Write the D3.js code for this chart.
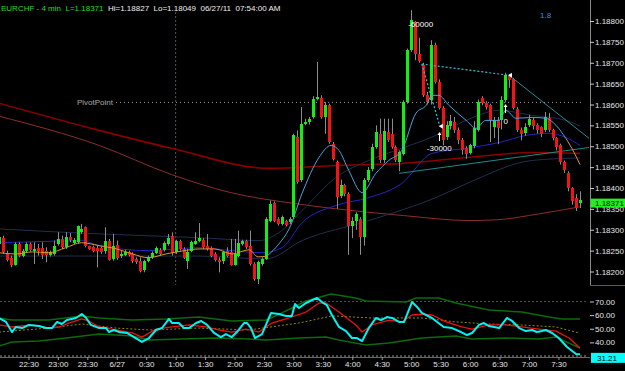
<!DOCTYPE html>
<html>
<head>
<meta charset="utf-8">
<script src="https://cdn.jsdelivr.net/npm/d3@7"></script>
<style>
  html, body { margin: 0; padding: 0; background: #000; }
  svg { display: block; font-family: "Liberation Sans", Arial, sans-serif; }
  text { white-space: pre; }
</style>
</head>
<body>
<svg id="chart" width="625" height="371"></svg>
<script>
// EURCHF 4-minute bars, first bar 22:00 on 6/26/11.
// Prices are stored in 0.00001 steps above BASE.
const BASE = 1.18;
const opens = [
  266,280,242,232,216,266,238,250,266,250, 256,256,248,240,242,266,278,258,282,269,
  270,294,306,260,258,256,256,250,274,230, 264,236,240,246,242,230,226,204,226,234,
  244,252,252,266,284,246,272,254,226,250, 266,274,276,262,256,242,228,224,250,246,
  216,238,266,272,260,218,182,218,230,322, 364,326,314,320,318,330,522,418,554,558,
  570,614,616,570,598,506,462,382,406,386, 310,322,326,282,418,446,498,530,466,534,
  530,498,462,482,606,730,798,722,694,622, 610,742,654,592,522,548,558,540,516,497,
  485,500,540,615,603,598,545,562,562,610, 668,660,590,538,532,550,564,550,545,538,
  568,538,520,502,462,437,399,376,364];
const highs = [
  290,286,250,238,270,270,254,270,270,270, 266,270,258,250,274,294,286,294,292,280,
  310,314,308,262,262,262,260,306,278,290, 274,250,252,250,246,234,234,228,238,248,
  260,256,272,290,294,276,276,258,254,274, 294,316,280,290,260,246,234,250,258,278,
  278,298,276,276,298,222,226,234,330,370, 368,330,334,324,330,530,538,594,566,570,
  620,702,622,606,602,510,466,420,410,390, 330,342,330,424,450,506,550,566,566,566,
  566,502,490,610,734,826,800,760,700,630, 754,748,660,596,560,575,570,545,520,500,
  506,560,612,620,608,602,570,570,620,676, 672,664,594,545,555,575,568,555,548,582,
  580,542,522,506,466,440,402,385,392];
const lows = [
  222,242,224,210,214,234,234,246,248,218, 238,230,222,236,238,262,254,254,270,266,
  266,290,258,252,246,210,242,242,226,226, 228,232,237,236,220,218,198,198,222,230,
  242,238,248,262,238,242,250,230,206,246, 264,270,254,250,234,224,198,218,234,214,
  214,234,262,254,214,178,170,214,228,318, 318,310,310,308,314,326,410,414,550,552,
  566,610,566,530,506,466,350,376,380,240, 280,300,240,262,414,440,494,460,460,510,
  494,462,440,478,602,726,706,700,618,600, 600,650,588,502,515,540,532,505,480,470,
  480,495,535,598,588,510,520,505,540,605, 640,588,534,514,525,546,540,530,522,534,
  534,514,490,456,436,392,360,345,352];
const closes = [
  282,246,228,216,266,238,250,266,252,254, 250,240,240,246,262,278,258,282,276,276,
  308,302,260,254,250,248,246,274,228,262, 232,242,246,240,224,222,202,224,234,244,
  256,242,268,280,244,272,254,232,246,270, 272,280,258,254,238,228,222,246,238,216,
  242,268,272,258,218,182,222,230,326,362, 322,314,330,312,326,526,414,554,558,566,
  614,618,570,598,510,470,378,406,386,310, 322,338,282,418,442,498,534,466,536,514,
  498,466,486,606,730,802,722,704,622,605, 742,654,592,514,550,560,540,516,492,482,
  502,543,605,603,594,562,562,544,610,670, 658,592,538,530,546,566,548,538,530,570,
  538,520,498,462,442,399,370,352,371];

// price overlays: [bar, points above BASE]
const slowMA = [[0,603],[25.5,538],[44,495],[69,447],[86,454],[103,459],[119,473],[136,485],[148,483]];
const slowerMA = [[0,572],[25.5,502],[44,432],[59,389],[76,362],[86,350],[103,334],[120,322],[127,324],[137.5,338],[148,355]];
const bandTop = [[0,302],[25.5,290],[50.9,281],[66.2,274],[71.3,293],[77.2,346],[85.8,425],[94.2,466],[102.6,495],[111.3,526],[119,562],[127.4,586],[135.8,574],[144.4,562],[148,548]];
const bandLow = [[0,237],[25.5,237],[50.9,237],[68,230],[77.2,274],[94.2,322],[111.3,377],[119.7,413],[135.8,466],[148,472]];
const midMA = [[0,269],[8.4,271],[21.1,274],[25.5,262],[38.2,250],[50.9,257],[59.3,250],[67,245],[72.1,257],[77.2,317],[85.8,358],[94.2,377],[102.6,411],[110.3,483],[119,495],[127.4,509],[134.2,526],[140.1,531],[144.4,521],[148,502]];
const fastFlatL = [[0,245],[4.3,242],[8.5,247],[12.7,245],[17,257],[21,269],[25.5,262],[30,254],[34,242],[38,233],[42.5,242],[46.6,249],[51,254],[55,254],[59.4,242],[63.7,252],[66,235],[68.3,237]];
const fastUp = [[68.3,237],[71.3,266],[73.9,302],[77.2,387],[81.5,473],[84.6,502],[86.6,490],[89.1,442],[92.5,389],[96,435],[99.3,466],[102.6,490],[106.2,579],[108.8,598],[110.3,622],[112,622],[114.6,598],[119,562],[121.5,543],[124,562],[127.4,562],[129.1,586],[131.7,567],[135.8,569],[139.3,567],[141.9,550],[144.4,519]];
const fastFlatR = [[144.4,519],[146.5,485],[148,456]];
const regLine = [[101.9,435],[150.3,497]];
const trendLine = [[129.9,670],[150.3,519]];
const divTop = [[107.7,697],[129.9,670]];
const divDrop = [[107.7,697],[112.3,548]];
const PIVOT = 1.18605;

// oscillator: [bar, value]
const rsi = [[0,57.9],[1.8,55.0],[3.3,47.6],[4.3,51.3],[5.9,50.5],[7.6,52.8],[10.2,52.0],[12,50.5],[13.5,50.5],[14.8,55.0],[16,53.5],[17.3,56.4],[19.6,57.9],[21.1,60.8],[22.2,57.9],[23.4,52.8],[25.5,50.5],[27.3,50.5],[28,47.6],[29.3,49.1],[30.6,47.6],[32.6,46.9],[34.4,43.9],[36.4,40.3],[38.2,43.2],[40,49.1],[41.5,50.5],[43.3,57.2],[44.1,54.2],[45.8,54.2],[47.1,50.5],[48.4,50.5],[50.2,54.2],[51.5,55.7],[53,52.8],[54.8,46.9],[56.5,43.9],[57.8,46.1],[59.3,43.9],[60.6,47.6],[62.4,54.2],[63.2,54.2],[64.2,50.5],[65.2,43.2],[67,46.1],[69.3,61.6],[71.3,60.8],[73.1,59.4],[74.6,59.4],[75.4,68.2],[76.4,65.2],[78.2,68.9],[81,72.6],[82.3,69.6],[83.5,67.4],[84.8,60.1],[86.6,51.3],[88.4,48.3],[89.9,43.2],[91.2,43.2],[92.5,41.0],[94.2,50.5],[96,57.9],[97.3,56.4],[98.8,58.6],[100.1,57.9],[101.9,55.0],[103.2,55.0],[105.2,69.6],[106.5,66.0],[107.7,61.6],[110.3,57.9],[111.6,55.0],[113.3,51.3],[115.4,50.5],[117.7,47.6],[119.2,45.4],[120.5,46.9],[122.3,52.8],[123.5,54.2],[124.8,52.0],[127.4,50.5],[129.4,57.9],[130.7,55.7],[132.5,50.5],[134.2,48.3],[135.8,49.1],[137,47.6],[138.3,48.3],[139.3,49.1],[140.9,46.9],[142.6,43.2],[144.7,36.6],[147,31.5],[148,31.21]];
const rsiSignal = [[0,52.8],[3.3,51.3],[8.4,52.8],[12.7,50.5],[15.3,51.3],[17.8,54.2],[21.1,57.2],[22.9,55.7],[25.5,51.3],[29.8,49.1],[33.9,46.9],[36.4,43.9],[40,49.8],[44.1,51.3],[48.4,52.8],[52.7,51.3],[56,49.1],[59.3,47.6],[62.9,49.8],[66.2,47.6],[69.5,54.2],[73.9,57.9],[78.2,62.3],[81.5,68.9],[83.3,68.9],[86.6,62.3],[90.9,52.8],[92.5,47.6],[95,52.8],[99.3,56.4],[102.6,55.0],[105.2,60.1],[107.7,60.8],[110.3,60.1],[113.9,55.0],[117.9,51.3],[120.5,49.8],[124.8,52.8],[129.1,52.8],[133.2,51.3],[137.5,49.8],[141.9,48.3],[145.2,43.2],[148,35.9]];
const rsiSlow = [[0,47.6],[12.7,50.5],[21.1,53.5],[29.8,50.5],[38.2,49.1],[50.9,50.5],[63.7,49.1],[76.4,54.2],[84.8,59.4],[95,57.9],[107.7,57.9],[116.4,55.0],[124.8,53.5],[133.2,52.8],[141.9,51.3],[147.7,46.9]];
const rsiUpper = [[0,57.9],[3.3,56.4],[12.7,56.4],[21.1,59.4],[25.5,57.9],[33.9,56.4],[42.5,57.2],[50.9,58.6],[59.3,55.7],[68,56.4],[72.1,61.6],[78.2,70.4],[84.6,75.5],[90.9,72.6],[93.5,70.4],[103.7,69.6],[106.2,72.6],[112,72.6],[116.4,68.9],[124.8,63.8],[133.2,62.3],[140.1,58.6],[143.4,57.2],[148,57.2]];
const rsiLower = [[0,37.3],[3.3,40.3],[10.2,41.0],[17.1,43.2],[25.5,46.1],[33.9,44.7],[38.2,41.7],[46.6,42.5],[55.3,43.2],[63.7,42.5],[68,41.7],[76.4,43.2],[83.3,43.9],[86.6,41.7],[93.5,38.1],[99.3,39.5],[107.7,43.2],[116.4,44.7],[120.5,42.5],[129.1,43.2],[137.5,42.5],[141.9,43.9],[145.2,39.5],[148,35.9]];
const RSI_LAST = 31.21;

const priceTicks = d3.range(1.182, 1.18801, 0.0005);
const oscTicks = [40, 50, 60, 70];

const p = v => BASE + v / 1e5;
const n = closes.length;
const t0 = new Date(2011, 5, 26, 22, 0);
const times = d3.range(n).map(i => d3.timeMinute.offset(t0, 4 * i));

const svg = d3.select("#chart");
svg.append("rect").attr("width", 625).attr("height", 371).attr("fill", "#000");

const x = d3.scaleTime().domain([times[0], times[n - 1]]).range([-1, 580]);
const xb = d3.scaleLinear().domain([0, n - 1]).range(x.range());
const y = d3.scaleLinear().domain([1.182, 1.188]).range([271.5, 21]);
const yo = d3.scaleLinear().domain([30, 70]).range([356, 301.5]);

const priceLine = d3.line().x(d => xb(d[0])).y(d => y(p(d[1]))).curve(d3.curveMonotoneX);
const oscLine = d3.line().x(d => xb(d[0])).y(d => yo(d[1]));

// session marker and pivot
svg.append("line")
  .attr("x1", x(new Date(2011, 5, 27, 1, 0))).attr("x2", x(new Date(2011, 5, 27, 1, 0)))
  .attr("y1", 12).attr("y2", 285)
  .attr("stroke", "#5e5e1c").attr("stroke-dasharray", "2,2");
svg.append("line")
  .attr("x1", 116).attr("x2", 583).attr("y1", y(PIVOT)).attr("y2", y(PIVOT))
  .attr("stroke", "#9a9a9a").attr("stroke-dasharray", "1,3");
svg.append("text").attr("x", 113).attr("y", y(PIVOT) + 3)
  .attr("text-anchor", "end").attr("font-size", 8).attr("fill", "#a8a8a8")
  .text("PivotPoint");

// long averages + envelope under the candles
const overlays = [
  [slowerMA, "#8e2c2c", 1],
  [slowMA, "#8a0000", 1.6],
  [bandTop, "#1f2f4f", 1],
  [bandLow, "#1f2f4f", 1],
  [midMA, "#2424c8", 1],
];
overlays.forEach(([d, c, w]) => {
  svg.append("path").attr("d", priceLine(d))
    .attr("fill", "none").attr("stroke", c).attr("stroke-width", w);
});
svg.append("path").attr("d", d3.line().x(d => xb(d[0])).y(d => y(p(d[1])))(regLine))
  .attr("fill", "none").attr("stroke", "#1d8a8a").attr("stroke-width", 1);

// candles
const candle = svg.append("g").selectAll("g").data(d3.range(n)).join("g");
candle.append("line")
  .attr("x1", i => Math.round(x(times[i])) + 0.5).attr("x2", i => Math.round(x(times[i])) + 0.5)
  .attr("y1", i => y(p(highs[i]))).attr("y2", i => y(p(lows[i])))
  .attr("stroke", "#8c8c8c").attr("stroke-width", 1);
candle.append("rect")
  .attr("x", i => Math.round(x(times[i])) - 1)
  .attr("width", 3)
  .attr("y", i => y(p(Math.max(opens[i], closes[i]))))
  .attr("height", i => Math.max(1, Math.abs(y(p(opens[i])) - y(p(closes[i])))))
  .attr("fill", i => closes[i] >= opens[i] ? "#14ee14" : "#f21414")
  .attr("shape-rendering", "crispEdges");

// fast average, coloured by slope regime
[[fastFlatL, "#e0962e"], [fastUp, "#4aa6dc"], [fastFlatR, "#e0962e"]].forEach(([d, c]) => {
  svg.append("path").attr("d", priceLine(d))
    .attr("fill", "none").attr("stroke", c).attr("stroke-width", 1);
});

// trend line and divergence marks
const straight = d3.line().x(d => xb(d[0])).y(d => y(p(d[1])));
svg.append("path").attr("d", straight(trendLine))
  .attr("fill", "none").attr("stroke", "#2a8c8c").attr("stroke-width", 1);
[divTop, divDrop].forEach(d => {
  svg.append("path").attr("d", straight(d))
    .attr("fill", "none").attr("stroke", "#25c8d8").attr("stroke-width", 1.2)
    .attr("stroke-dasharray", "2,2");
});

const note = (tx, ty, s, c) => svg.append("text").attr("x", tx).attr("y", ty)
  .attr("font-size", 8).attr("fill", c || "#fff").text(s);
note(xb(105) - 3, y(p(highs[105])) + 17, "-60000");
note(xb(110) - 4, 151, "-30000");
note(xb(129) - 2, 124, "0");
note(540, 18, "1.8", "#3a90e2");

// small arrows at the divergence points
[[112, 141, 132], [129, 113, 104]].forEach(([b, y1, y2]) => {
  const ax = Math.round(xb(b)) + 0.5;
  svg.append("line").attr("x1", ax).attr("x2", ax).attr("y1", y1).attr("y2", y2 + 2)
    .attr("stroke", "#fff").attr("stroke-width", 1);
  svg.append("path").attr("d", `M${ax - 2},${y2 + 3}L${ax},${y2}L${ax + 2},${y2 + 3}Z`).attr("fill", "#fff");
});
[[divDrop[1]], [divTop[1]]].forEach(([d]) => {
  const ax = xb(d[0]) + 2, ay = y(p(d[1]));
  svg.append("path").attr("d", `M${ax - 3},${ay}L${ax + 1},${ay - 2.5}L${ax + 1},${ay + 2.5}Z`).attr("fill", "#fff");
});

// right price axis
svg.append("line").attr("x1", 590.5).attr("x2", 590.5).attr("y1", 0).attr("y2", 285)
  .attr("stroke", "#8a8a8a");
svg.append("line").attr("x1", 590).attr("x2", 625).attr("y1", 285.5).attr("y2", 285.5)
  .attr("stroke", "#5a5a5a");
const yAxis = svg.append("g").attr("transform", "translate(590,0)")
  .call(d3.axisRight(y).tickValues(priceTicks).tickFormat(d3.format(".5f")).tickSize(4).tickPadding(1));
yAxis.select(".domain").remove();
yAxis.selectAll("line").attr("stroke", "#c8c8c8");
yAxis.selectAll("text").attr("fill", "#e6e6e6").attr("font-size", 8).attr("font-family", null);

const lastY = y(p(closes[n - 1]));
svg.append("rect").attr("x", 591).attr("y", lastY - 1.5).attr("width", 34).attr("height", 9).attr("fill", "#22ee22");
svg.append("text").attr("x", 595).attr("y", lastY + 6).attr("font-size", 8).attr("fill", "#000")
  .text(d3.format(".5f")(p(closes[n - 1])));

// oscillator panel
[70, 30].forEach(v => {
  svg.append("line").attr("x1", 0).attr("x2", 588).attr("y1", yo(v)).attr("y2", yo(v))
    .attr("stroke", "#4a4a4a").attr("stroke-width", v === 30 ? 2 : 1).attr("stroke-dasharray", "2,2");
});
[[rsiUpper, "#0b6a0b", 1.5, null], [rsiLower, "#0b6a0b", 1.5, null],
 [rsiSlow, "#8c8a10", 1, "2,2"], [rsiSignal, "#f01010", 1.3, null], [rsi, "#00f2f2", 2, null]]
  .forEach(([d, c, w, dash]) => {
    svg.append("path").attr("d", oscLine(d))
      .attr("fill", "none").attr("stroke", c).attr("stroke-width", w)
      .attr("stroke-dasharray", dash).attr("stroke-linejoin", "round");
  });

const oAxis = svg.append("g").attr("transform", "translate(590,0)")
  .call(d3.axisRight(yo).tickValues(oscTicks).tickFormat(d3.format(".2f")).tickSize(4).tickPadding(1));
oAxis.select(".domain").remove();
oAxis.selectAll("line").attr("stroke", "#c8c8c8");
oAxis.selectAll("text").attr("fill", "#e6e6e6").attr("font-size", 8).attr("font-family", null);

svg.append("rect").attr("x", 591).attr("y", yo(RSI_LAST) - 1.5).attr("width", 34).attr("height", 10).attr("fill", "#00ffff");
svg.append("text").attr("x", 597).attr("y", yo(RSI_LAST) + 6.5).attr("font-size", 8).attr("fill", "#000")
  .text(d3.format(".2f")(RSI_LAST));

// time axis
const tickTimes = d3.timeMinute.every(30).range(new Date(2011, 5, 26, 22, 30), new Date(2011, 5, 27, 7, 31));
const fmt = d => (d.getHours() === 0 && d.getMinutes() === 0) ? "6/27" : d3.timeFormat("%-H:%M")(d);
const xAxis = svg.append("g").attr("transform", "translate(0,357)")
  .call(d3.axisBottom(x).tickValues(tickTimes).tickFormat(fmt).tickSize(3).tickPadding(1).tickSizeOuter(0));
xAxis.select(".domain").attr("stroke", "#6a6a6a").attr("d", "M0,0.5H590");
xAxis.selectAll("line").attr("stroke", "#9a9a9a");
xAxis.selectAll("text").attr("fill", "#e6e6e6").attr("font-size", 8).attr("font-family", null);

// title
const title = svg.append("text").attr("x", 1).attr("y", 11).attr("font-size", 8);
title.append("tspan").attr("fill", "#22dd22").text("EURCHF - 4 min  L=1.18371  ");
title.append("tspan").attr("fill", "#f0f0f0").text("Hi=1.18827  Lo=1.18049  06/27/11  07:54:00 AM");
</script>
</body>
</html>
